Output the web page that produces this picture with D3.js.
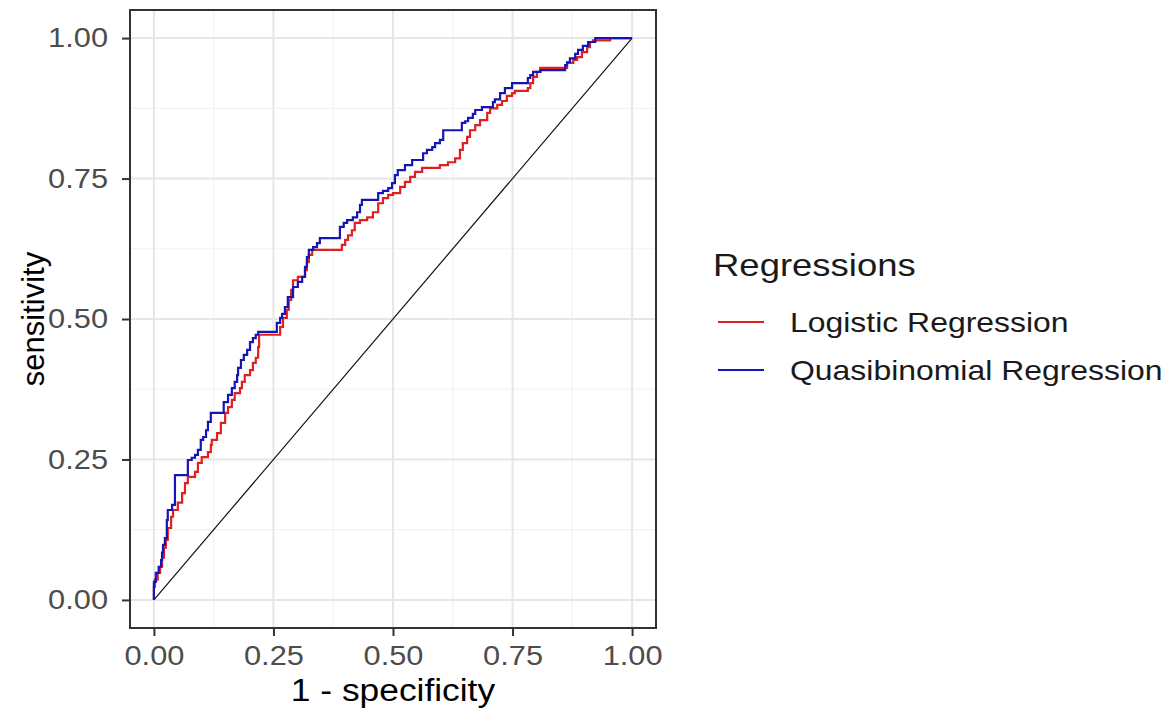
<!DOCTYPE html>
<html>
<head>
<meta charset="utf-8">
<script src="https://cdn.jsdelivr.net/npm/d3@7"></script>
<style>
  body { margin: 0; background: #fff; }
  svg { display: block; font-family: "Liberation Sans", Arial, sans-serif; }
</style>
</head>
<body>
<svg width="1176" height="711"></svg>
<script>
// series names (legend order)
const seriesNames = ['Logistic Regression', 'Quasibinomial Regression'];

// ROC corner points (1 - specificity, sensitivity)
const logisticFpr = [0, 0, 0.002, 0.008, 0.013, 0.017, 0.021, 0.025, 0.029, 0.036, 0.040, 0.050, 0.059, 0.065, 0.071,
  0.086, 0.092, 0.100, 0.113, 0.119, 0.121, 0.132, 0.140, 0.149, 0.155, 0.163, 0.169, 0.180, 0.184, 0.190,
  0.201, 0.207, 0.213, 0.218, 0.220, 0.264, 0.270, 0.278, 0.282, 0.287, 0.291, 0.301, 0.316, 0.320, 0.324,
  0.331, 0.393, 0.400, 0.406, 0.414, 0.420, 0.431, 0.446, 0.458, 0.469, 0.479, 0.490, 0.500, 0.515, 0.525,
  0.536, 0.546, 0.561, 0.598, 0.615, 0.630, 0.640, 0.646, 0.655, 0.661, 0.672, 0.682, 0.697, 0.703, 0.718,
  0.728, 0.738, 0.749, 0.755, 0.782, 0.787, 0.793, 0.801, 0.808, 0.864, 0.877, 0.885, 0.895, 0.906, 0.912,
  0.918, 0.954, 1];
const logisticTpr = [0, 0.023, 0.036, 0.048, 0.059, 0.075, 0.093, 0.107, 0.128, 0.148, 0.160, 0.173, 0.190, 0.208, 0.219,
  0.228, 0.244, 0.254, 0.263, 0.276, 0.285, 0.297, 0.315, 0.333, 0.343, 0.356, 0.368, 0.377, 0.388, 0.400,
  0.409, 0.422, 0.431, 0.450, 0.472, 0.486, 0.502, 0.516, 0.534, 0.552, 0.569, 0.575, 0.587, 0.601, 0.614,
  0.623, 0.632, 0.641, 0.649, 0.658, 0.671, 0.676, 0.681, 0.690, 0.706, 0.715, 0.721, 0.724, 0.735, 0.744,
  0.753, 0.762, 0.769, 0.774, 0.779, 0.786, 0.801, 0.813, 0.824, 0.836, 0.845, 0.854, 0.867, 0.875, 0.881,
  0.888, 0.897, 0.902, 0.906, 0.911, 0.920, 0.931, 0.940, 0.947, 0.956, 0.961, 0.966, 0.975, 0.984, 0.993,
  0.996, 1, 1];

const quasiFpr = [0, 0, 0.004, 0.010, 0.015, 0.017, 0.019, 0.023, 0.027, 0.029, 0.038, 0.044, 0.044, 0.071, 0.079,
  0.086, 0.092, 0.098, 0.103, 0.109, 0.113, 0.119, 0.146, 0.155, 0.163, 0.169, 0.174, 0.176, 0.182, 0.188,
  0.195, 0.201, 0.207, 0.213, 0.218, 0.257, 0.264, 0.268, 0.274, 0.280, 0.291, 0.301, 0.310, 0.316, 0.320,
  0.324, 0.333, 0.341, 0.347, 0.389, 0.397, 0.404, 0.416, 0.425, 0.431, 0.435, 0.469, 0.479, 0.490, 0.498,
  0.504, 0.510, 0.525, 0.540, 0.563, 0.571, 0.582, 0.588, 0.598, 0.605, 0.644, 0.651, 0.657, 0.667, 0.672,
  0.686, 0.709, 0.713, 0.724, 0.734, 0.749, 0.782, 0.787, 0.793, 0.808, 0.860, 0.864, 0.870, 0.881, 0.887,
  0.897, 0.908, 0.923, 1];
const quasiTpr = [0, 0.032, 0.048, 0.059, 0.071, 0.084, 0.098, 0.110, 0.142, 0.160, 0.169, 0.178, 0.222, 0.249, 0.253,
  0.258, 0.267, 0.285, 0.290, 0.302, 0.317, 0.333, 0.352, 0.365, 0.377, 0.388, 0.400, 0.413, 0.427, 0.436,
  0.445, 0.459, 0.466, 0.472, 0.477, 0.493, 0.502, 0.509, 0.521, 0.539, 0.557, 0.566, 0.575, 0.593, 0.610,
  0.623, 0.628, 0.635, 0.644, 0.664, 0.671, 0.676, 0.681, 0.690, 0.703, 0.712, 0.724, 0.728, 0.733, 0.742,
  0.756, 0.765, 0.774, 0.783, 0.795, 0.801, 0.806, 0.813, 0.819, 0.836, 0.849, 0.852, 0.858, 0.865, 0.872,
  0.877, 0.886, 0.891, 0.902, 0.911, 0.920, 0.929, 0.934, 0.940, 0.943, 0.952, 0.957, 0.964, 0.972, 0.979,
  0.986, 0.993, 1, 1];

// chance line
const diagFpr = [0, 1];
const diagTpr = [0, 1];

const majorTicks = [0, 0.25, 0.5, 0.75, 1];
const minorTicks = [0.125, 0.375, 0.625, 0.875];

const colors = { 'Logistic Regression': '#e02020', 'Quasibinomial Regression': '#1515b5' };

const svg = d3.select('svg');
const panel = { left: 130, top: 10, right: 656, bottom: 628 };

// the source image is a bit wider than tall, so horizontal text gets stretched
const stretch = sel => sel.each(function() {
  const w = this.getComputedTextLength();
  d3.select(this)
    .attr('textLength', w * 1.14)
    .attr('lengthAdjust', 'spacingAndGlyphs');
});

// ggplot-style 5% expansion on each side
const xScale = d3.scaleLinear().domain([-0.05, 1.05]).range([panel.left, panel.right]);
const yScale = d3.scaleLinear().domain([-0.05, 1.05]).range([panel.bottom, panel.top]);

const g = svg.append('g');

// grid
g.selectAll('.minor-x').data(minorTicks).enter().append('line')
  .attr('x1', d => xScale(d)).attr('x2', d => xScale(d))
  .attr('y1', panel.top).attr('y2', panel.bottom)
  .attr('stroke', '#f2f2f2').attr('stroke-width', 1.2);
g.selectAll('.minor-y').data(minorTicks).enter().append('line')
  .attr('y1', d => yScale(d)).attr('y2', d => yScale(d))
  .attr('x1', panel.left).attr('x2', panel.right)
  .attr('stroke', '#f2f2f2').attr('stroke-width', 1.2);
g.selectAll('.major-x').data(majorTicks).enter().append('line')
  .attr('x1', d => xScale(d)).attr('x2', d => xScale(d))
  .attr('y1', panel.top).attr('y2', panel.bottom)
  .attr('stroke', '#e6e6e6').attr('stroke-width', 2);
g.selectAll('.major-y').data(majorTicks).enter().append('line')
  .attr('y1', d => yScale(d)).attr('y2', d => yScale(d))
  .attr('x1', panel.left).attr('x2', panel.right)
  .attr('stroke', '#e6e6e6').attr('stroke-width', 2);

// lines
const toPoints = (xs, ys) => xs.map((x, i) => [x, ys[i]]);
const stepLine = d3.line()
  .x(d => xScale(d[0]))
  .y(d => yScale(d[1]))
  .curve(d3.curveStepAfter);
const straight = d3.line().x(d => xScale(d[0])).y(d => yScale(d[1]));

g.append('path')
  .attr('d', straight(toPoints(diagFpr, diagTpr)))
  .attr('fill', 'none').attr('stroke', '#111').attr('stroke-width', 1.2);

g.append('path')
  .attr('d', stepLine(toPoints(logisticFpr, logisticTpr)))
  .attr('fill', 'none').attr('stroke', colors['Logistic Regression']).attr('stroke-width', 2.2);

g.append('path')
  .attr('d', stepLine(toPoints(quasiFpr, quasiTpr)))
  .attr('fill', 'none').attr('stroke', colors['Quasibinomial Regression']).attr('stroke-width', 2.2);

// panel border
g.append('rect')
  .attr('x', panel.left).attr('y', panel.top)
  .attr('width', panel.right - panel.left).attr('height', panel.bottom - panel.top)
  .attr('fill', 'none').attr('stroke', '#333').attr('stroke-width', 2);

// axes
const fmt = d3.format('.2f');
const xAxis = d3.axisBottom(xScale).tickValues(majorTicks).tickFormat(fmt).tickSize(7).tickPadding(10);
const yAxis = d3.axisLeft(yScale).tickValues(majorTicks).tickFormat(fmt).tickSize(7).tickPadding(14);

const xAxisG = svg.append('g').attr('transform', `translate(0,${panel.bottom + 1})`).call(xAxis);
const yAxisG = svg.append('g').attr('transform', `translate(${panel.left - 1},0)`).call(yAxis);
[xAxisG, yAxisG].forEach(a => {
  a.select('.domain').remove();
  a.selectAll('.tick line').attr('stroke', '#333').attr('stroke-width', 2);
  a.selectAll('.tick text')
    .attr('fill', '#4d4d4d')
    .style('font-size', '27px')
    .style('font-family', '"Liberation Sans", Arial, sans-serif')
    .call(stretch);
});

svg.append('text')
  .attr('x', (panel.left + panel.right) / 2)
  .attr('y', 701)
  .attr('text-anchor', 'middle')
  .style('font-size', '31px')
  .text('1 - specificity')
  .call(stretch);

svg.append('text')
  .attr('transform', `translate(44,${(panel.top + panel.bottom) / 2}) rotate(-90)`)
  .attr('text-anchor', 'middle')
  .style('font-size', '31px')
  .text('sensitivity');

// legend
const legend = svg.append('g').attr('transform', 'translate(713,0)');
legend.append('text')
  .attr('x', 0).attr('y', 276)
  .style('font-size', '32px')
  .attr('fill', '#1a1a1a')
  .text('Regressions')
  .call(stretch);

const item = legend.selectAll('.legend').data(seriesNames).enter().append('g')
  .attr('class', 'legend')
  .attr('transform', (d, i) => `translate(0,${322 + i * 48})`);
item.append('line')
  .attr('x1', 5).attr('x2', 51)
  .attr('stroke', d => colors[d]).attr('stroke-width', 2);
item.append('text')
  .attr('x', 77).attr('y', 0).attr('dy', '0.36em')
  .style('font-size', '28px')
  .attr('fill', '#1a1a1a')
  .text(d => d)
  .call(stretch);
</script>
</body>
</html>
